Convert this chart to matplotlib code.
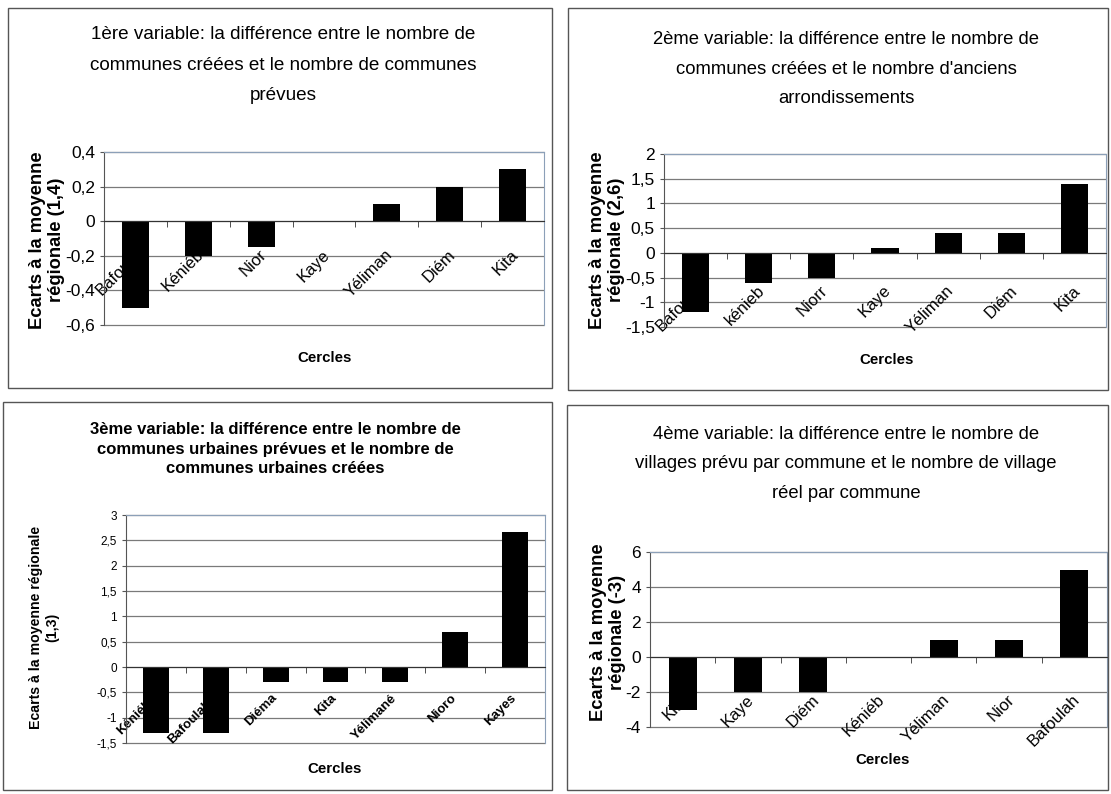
import matplotlib
matplotlib.use("Agg")
import matplotlib.pyplot as plt
from matplotlib.patches import Rectangle
from matplotlib.ticker import FuncFormatter, MultipleLocator, FixedLocator
from matplotlib.transforms import offset_copy

# Panel 1
labels1 = ["Bafoula", "Kéniéb", "Nior", "Kaye", "Yéliman", "Diém", "Kita"]
values1 = [-0.5, -0.2, -0.15, 0.0, 0.1, 0.2, 0.3]
# Panel 2
labels2 = ["Bafoula", "kénieb", "Niorr", "Kaye", "Yéliman", "Diém", "Kita"]
values2 = [-1.2, -0.6, -0.5, 0.1, 0.4, 0.4, 1.4]
# Panel 3
labels3 = ["Kéniéba", "Bafoulabé", "Diéma", "Kita", "Yélimané", "Nioro", "Kayes"]
values3 = [-1.3, -1.3, -0.3, -0.3, -0.3, 0.7, 2.67]
# Panel 4
labels4 = ["Kita", "Kaye", "Diém", "Kéniéb", "Yéliman", "Nior", "Bafoulah"]
values4 = [-3, -2, -2, 0, 1, 1, 5]

titles = [
    "1ère variable: la différence entre le nombre de\ncommunes créées et le nombre de communes\nprévues",
    "2ème variable: la différence entre le nombre de\ncommunes créées et le nombre d'anciens\narrondissements",
    "3ème variable: la différence entre le nombre de\ncommunes urbaines prévues et le nombre de\ncommunes urbaines créées",
    "4ème variable: la différence entre le nombre de\nvillages prévu par commune et le nombre de village\nréel par commune",
]
ylabels = [
    "Ecarts à la moyenne\nrégionale (1,4)",
    "Ecarts à la moyenne\nrégionale (2,6)",
    "Ecarts à la moyenne régionale\n(1,3)",
    "Ecarts à la moyenne\nrégionale (-3)",
]

ARIAL = ["Liberation Sans", "DejaVu Sans"]

W, H = 1111, 794
fig = plt.figure(figsize=(W / 100, H / 100), dpi=100)
fig.patch.set_facecolor("white")


def px(x, y):
    return x / W, 1 - y / H


def comma(v, _):
    return f"{v:g}".replace(".", ",")


# panel frames (x0, y0, x1, y1 in pixels)
frames = [(8, 8, 552, 388), (568, 8, 1108, 390), (3, 402, 552, 790), (567, 405, 1108, 790)]
for x0, y0, x1, y1 in frames:
    fig.add_artist(Rectangle(px(x0, y1), (x1 - x0) / W, (y1 - y0) / H,
                             transform=fig.transFigure, fill=False,
                             edgecolor="#555555", linewidth=1.0))

# axes rectangles (pixels: left, top, right, bottom)
boxes = [(104, 152, 544, 325), (664, 154, 1106, 327), (126, 515, 545, 743), (650, 552, 1107, 727)]
ylims = [(-0.6, 0.4), (-1.5, 2), (-1.5, 3), (-4, 6)]
ysteps = [0.2, 0.5, 0.5, 2]
title_pos = [(283, 65), (846, 69), (275, 449), (846, 464)]
title_size = [13.6, 13.3, 12, 13.3]
title_spacing = [2.04, 1.98, 1.34, 1.95]
ylab_pos = [(47, 240), (607, 240), (44, 627), (608, 632)]
ylab_size = [13.2, 13.2, 10.2, 13.2]
xlab_pos = [(325, 358), (887, 360), (335, 769), (883, 760)]
lab_off = [(-2, -26), (-2, -30), (-5, -25), (-2, -35)]
datasets = [(labels1, values1), (labels2, values2), (labels3, values3), (labels4, values4)]

for i in range(4):
    small = i == 2
    l, t, r, b = boxes[i]
    ax = fig.add_axes([l / W, 1 - b / H, (r - l) / W, (b - t) / H])
    labels, values = datasets[i]
    xs = list(range(len(values)))
    ax.bar(xs, values, width=0.43, color="black", zorder=2)
    ax.set_xlim(-0.5, len(values) - 0.5)
    ax.set_ylim(*ylims[i])
    ax.yaxis.set_major_locator(MultipleLocator(ysteps[i]))
    ax.yaxis.set_major_formatter(FuncFormatter(comma))
    lo, hi = ylims[i]
    grid_y = [v for v in ax.get_yticks() if lo - 1e-9 <= v <= hi + 1e-9]
    ax.hlines(grid_y, -0.5, len(values) - 0.5, color="#7a7a7a",
              linewidth=0.9, zorder=1, clip_on=False)

    ax.spines["bottom"].set_position(("data", 0))
    ax.spines["bottom"].set_color("#333333")
    ax.spines["bottom"].set_zorder(3)
    for s in ("top", "right"):
        ax.spines[s].set_color("#8ca0b8")
    ax.spines["left"].set_color("#555555")

    # category labels sit under the zero line (the bars hide part of them)
    ax.set_xticks(xs)
    ax.set_xticklabels([])
    ax.xaxis.set_minor_locator(FixedLocator([k + 0.5 for k in range(len(values) - 1)]))
    ax.tick_params(axis="x", which="major", length=0)
    ax.tick_params(axis="x", which="minor", length=4, direction="out", color="#333333")
    ox, oy = lab_off[i]
    lab_tr = offset_copy(ax.transData, fig=fig, x=ox, y=oy, units="dots")
    for x, name in zip(xs, labels):
        ax.text(x, 0, name, transform=lab_tr, rotation=45, ha="right", va="top",
                rotation_mode="anchor", fontsize=9.5 if small else 12,
                fontweight="bold" if small else "normal", family=ARIAL,
                zorder=1.5, clip_on=False)

    ax.tick_params(axis="y", length=3, color="#555555",
                   labelsize=8.5 if small else 12.5)
    for lab in ax.get_yticklabels():
        lab.set_family(ARIAL)

    tx, ty = title_pos[i]
    fig.text(*px(tx, ty), titles[i], ha="center", va="center",
             fontsize=title_size[i], fontweight="bold" if small else "normal",
             family=ARIAL, linespacing=title_spacing[i])
    yx, yy = ylab_pos[i]
    fig.text(*px(yx, yy), ylabels[i], ha="center", va="center", rotation=90,
             fontsize=ylab_size[i], fontweight="bold", family=ARIAL,
             linespacing=1.1 if not small else 1.2)
    xx, xy = xlab_pos[i]
    fig.text(*px(xx, xy), "Cercles", ha="center", va="center",
             fontsize=10.8, fontweight="bold", family=ARIAL)

fig.savefig("out.png", dpi=100)
